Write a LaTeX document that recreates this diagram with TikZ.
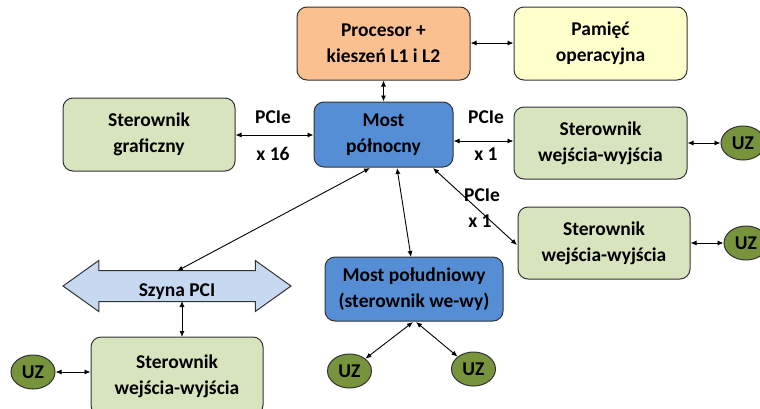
\documentclass[tikz,border=0pt]{standalone}
\usepackage{fontspec}
\setmainfont{Carlito}
\usetikzlibrary{arrows.meta,shapes.geometric,shapes.arrows}
\definecolor{procfill}{HTML}{FAC090}
\definecolor{memfill}{HTML}{FFFFCC}
\definecolor{ctrlfill}{HTML}{D7E4BD}
\definecolor{bridgefill}{HTML}{558ED5}
\definecolor{busfill}{HTML}{C6D9F1}
\definecolor{uzfill}{HTML}{77933C}
\definecolor{edge}{HTML}{333333}
\tikzset{
  box/.style={draw=edge, line width=1pt, rounded corners=10pt, align=center,
    font=\fontsize{19.5}{26}\selectfont\bfseries, text=black, inner sep=0pt},
  uz/.style={ellipse, draw=edge, line width=1pt, fill=uzfill, minimum width=44pt,
    minimum height=34pt, inner sep=0pt, font=\fontsize{19.5}{22}\selectfont\bfseries},
  link/.style={line width=0.9pt, black, {Latex[length=6pt,width=5pt]}-{Latex[length=6pt,width=5pt]}},
  lbl/.style={font=\fontsize{19.5}{22}\selectfont\bfseries, inner sep=0pt}
}
\begin{document}
\begin{tikzpicture}[x=1pt,y=-1pt]
\useasboundingbox (0,0) rectangle (760,408);
\clip (0,0) rectangle (760,408);
\fill[white] (0,0) rectangle (760,408);
% boxes
\node[box, fill=procfill, minimum width=173pt, minimum height=73pt] (cpu) at (383.5,43.5) {Procesor +\\kieszeń L1 i L2};
\node[box, fill=memfill, minimum width=173pt, minimum height=73pt] (mem) at (600.5,43.5) {Pamięć\\operacyjna};
\node[box, fill=ctrlfill, minimum width=172pt, minimum height=73pt] (gfx) at (149,134.5) {Sterownik\\graficzny};
\node[box, fill=bridgefill, minimum width=139pt, minimum height=65pt] (nb) at (383.5,134.5) {Most\\północny};
\node[box, fill=ctrlfill, minimum width=173pt, minimum height=72pt] (io1) at (600.5,143) {Sterownik\\wejścia-wyjścia};
\node[box, fill=ctrlfill, minimum width=172pt, minimum height=72pt] (io2) at (604,243) {Sterownik\\wejścia-wyjścia};
\node[box, fill=bridgefill, minimum width=178pt, minimum height=64pt] (sb) at (414,289) {Most południowy\\(sterownik we-wy)};
\node[box, fill=ctrlfill, minimum width=172pt, minimum height=78pt] (io3) at (177,376) {Sterownik\\wejścia-wyjścia};
% bus
\node[double arrow, draw=edge, line width=1pt, fill=busfill,
  minimum width=50pt, minimum height=228pt, double arrow head extend=10pt,
  double arrow tip angle=71, inner xsep=0pt, inner ysep=0pt,
  text height=20pt, text depth=10pt,
  font=\fontsize{19.5}{22}\selectfont\bfseries]
  (pci) at (177,286) {\raisebox{-5pt}{Szyna PCI}};
% UZ
\node[uz] (uz1) at (743,143) {UZ};
\node[uz] (uz2) at (746,243) {UZ};
\node[uz] (uz3) at (33,372) {UZ};
\node[uz] (uz4) at (349.5,371) {UZ};
\node[uz] (uz5) at (473.5,369) {UZ};
% connectors
\draw[link] (cpu.east |- 0,43) -- (mem.west |- 0,43);
\draw[link] (cpu.south) -- (nb.north);
\draw[link] (gfx.east |- 0,135) -- (nb.west |- 0,135);
\draw[link] (nb.east |- 0,141) -- (io1.west |- 0,141);
\coordinate (nbA) at (433,168);
\coordinate (nbB) at (370,168);
\coordinate (nbC) at (397,168);
\coordinate (io2w) at (517,245);
\coordinate (pcitop) at (177,271);
\coordinate (sbtop) at (411,257);
\draw[link] (nbA) -- (io2w);
\draw[link] (nbB) -- (pcitop);
\draw[link] (nbC) -- (sbtop);
\coordinate (pcibot) at (182,301);
\coordinate (io3top) at (182,337);
\draw[link] (pcibot) -- (io3top);
\draw[link] (uz3.east) -- (io3.west |- uz3.east);
\coordinate (sbA) at (413,322);
\coordinate (sbB) at (416,322);
\draw[link] (sbA) -- (uz4.north east);
\draw[link] (sbB) -- (uz5.north west);
\draw[link] (io1.east |- 0,143) -- (uz1.west);
\draw[link] (io2.east |- 0,243) -- (uz2.west);
% labels
\node[lbl] (l1) at (273,117) {PCIe};
\node[lbl] (l2) at (273,154) {x 16};
\node[lbl] (l3) at (486,117) {PCIe};
\node[lbl] (l4) at (486,154) {x 1};
\node[lbl] (l5) at (482,195) {PCIe};
\node[lbl] (l6) at (480,221) {x 1};
\end{tikzpicture}
\end{document}
